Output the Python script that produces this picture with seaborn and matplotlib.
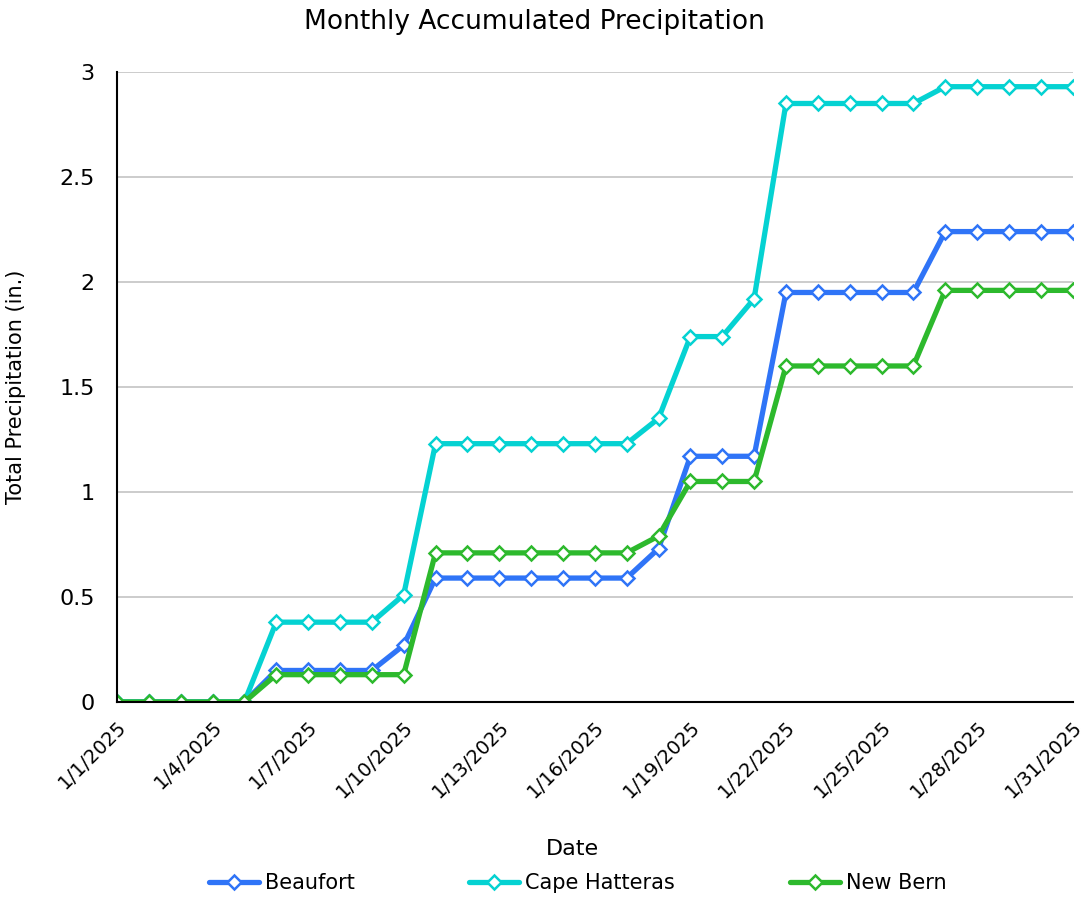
import pandas as pd
import matplotlib.pyplot as plt
import seaborn as sns

# data
days = list(range(1, 32))
beaufort = [0, 0, 0, 0, 0, 0.15, 0.15, 0.15, 0.15, 0.27,
            0.59, 0.59, 0.59, 0.59, 0.59, 0.59, 0.59, 0.73, 1.17, 1.17,
            1.17, 1.95, 1.95, 1.95, 1.95, 1.95, 2.24, 2.24, 2.24, 2.24, 2.24]
cape_hatteras = [0, 0, 0, 0, 0, 0.38, 0.38, 0.38, 0.38, 0.51,
                 1.23, 1.23, 1.23, 1.23, 1.23, 1.23, 1.23, 1.35, 1.74, 1.74,
                 1.92, 2.85, 2.85, 2.85, 2.85, 2.85, 2.93, 2.93, 2.93, 2.93, 2.93]
new_bern = [0, 0, 0, 0, 0, 0.13, 0.13, 0.13, 0.13, 0.13,
            0.71, 0.71, 0.71, 0.71, 0.71, 0.71, 0.71, 0.79, 1.05, 1.05,
            1.05, 1.60, 1.60, 1.60, 1.60, 1.60, 1.96, 1.96, 1.96, 1.96, 1.96]
stations = ['Beaufort', 'Cape Hatteras', 'New Bern']
tick_days = [1, 4, 7, 10, 13, 16, 19, 22, 25, 28, 31]
y_ticks = [0, 0.5, 1, 1.5, 2, 2.5, 3]
y_tick_labels = ['0', '0.5', '1', '1.5', '2', '2.5', '3']

df = pd.DataFrame({'Day': days, 'Beaufort': beaufort,
                   'Cape Hatteras': cape_hatteras, 'New Bern': new_bern})
long_df = df.melt(id_vars='Day', var_name='Station', value_name='Precip')

colors = {'Beaufort': '#2F74F7', 'Cape Hatteras': '#05D2D2', 'New Bern': '#2DB92D'}

sns.set_style('white')
plt.rcParams['font.family'] = ['DejaVu Sans']
plt.rcParams['text.color'] = 'black'
plt.rcParams['axes.labelcolor'] = 'black'
plt.rcParams['xtick.color'] = 'black'
plt.rcParams['ytick.color'] = 'black'

fig = plt.figure(figsize=(10.86, 9.01), dpi=100)
ax = fig.add_axes([0.1077, 0.2209, 0.880, 0.6992])

for name in stations:
    sub = long_df[long_df['Station'] == name]
    sns.lineplot(data=sub, x='Day', y='Precip', ax=ax, color=colors[name],
                 linewidth=3.8, marker='D', markersize=7,
                 markerfacecolor='white', markeredgecolor=colors[name],
                 markeredgewidth=1.8, label=name)

ax.set_xlim(1, 31)
ax.set_ylim(0, 3)
ax.set_yticks(y_ticks)
ax.set_yticklabels(y_tick_labels, fontsize=16)
ax.set_xticks(tick_days)
ax.set_xticklabels([f'1/{d}/2025' for d in tick_days], rotation=45,
                   ha='right', rotation_mode='anchor', fontsize=14)
ax.yaxis.grid(True, color='#c8c8c8', linewidth=1.3)
ax.set_axisbelow(True)
ax.tick_params(axis='x', direction='inout', length=12, width=1.5, pad=5)
ax.tick_params(axis='y', length=0, pad=16)
for side in ['top', 'right']:
    ax.spines[side].set_visible(False)
for side in ['left', 'bottom']:
    ax.spines[side].set_color('black')
    ax.spines[side].set_linewidth(1.5)

ax.set_title('Monthly Accumulated Precipitation', fontsize=19, pad=31, x=0.437)
ax.set_xlabel('Date', fontsize=16)
ax.set_ylabel('Total Precipitation (in.)', fontsize=15, labelpad=24)
ax.xaxis.set_label_coords(0.477, -0.218)

ax.legend(loc='center', bbox_to_anchor=(0.482, -0.288), ncol=3, frameon=False,
          fontsize=15, columnspacing=5.5, handlelength=2.4, handletextpad=0.3)

fig.savefig('out.png', dpi=100)
